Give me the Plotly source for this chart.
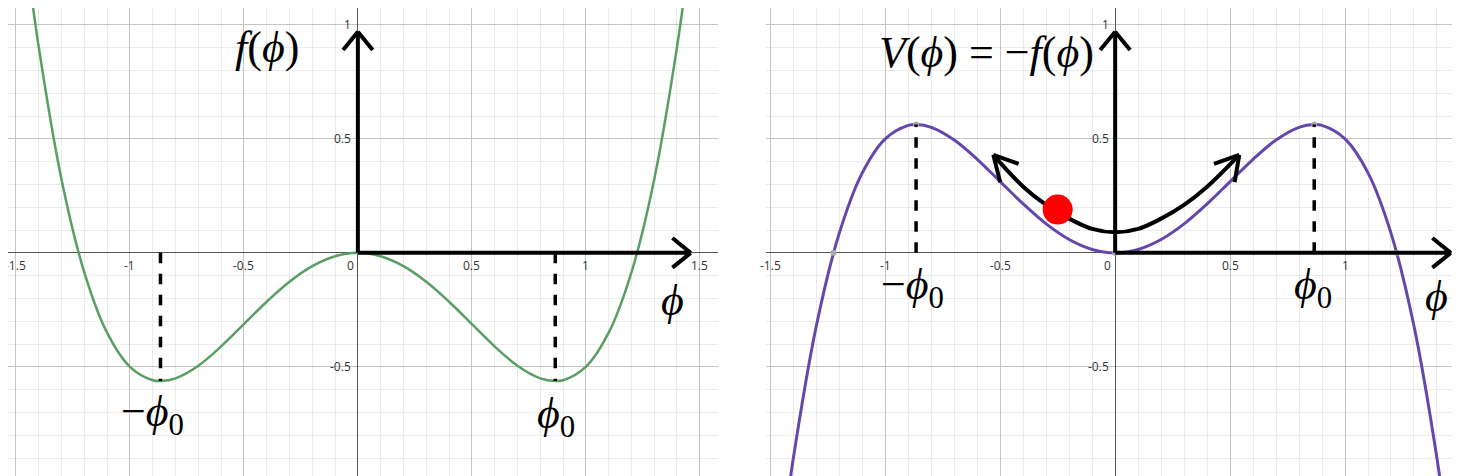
import plotly.graph_objects as go

phi = [-1.45,-1.4,-1.3,-1.2,-1.1,-1.0,-0.9,-0.866,-0.8,-0.7,-0.6,-0.5,-0.4,-0.3,-0.2,-0.1,0.0,
       0.1,0.2,0.3,0.4,0.5,0.6,0.7,0.8,0.866,0.9,1.0,1.1,1.2,1.3,1.4,1.45]
f_vals = [1.2667,0.9016,0.3211,-0.0864,-0.3509,-0.5,-0.5589,-0.5625,-0.5504,-0.4949,-0.4104,-0.3125,-0.2144,-0.1269,-0.0584,-0.0149,0.0,
          -0.0149,-0.0584,-0.1269,-0.2144,-0.3125,-0.4104,-0.4949,-0.5504,-0.5625,-0.5589,-0.5,-0.3509,-0.0864,0.3211,0.9016,1.2667]
v_vals = [-v for v in f_vals]
phi0 = 0.866
extreme = 0.5625
arc_x = [-0.53,-0.4,-0.3,-0.2,-0.1,0.0,0.1,0.2,0.3,0.4,0.54]
arc_y = [0.43,0.29,0.21,0.15,0.105,0.09,0.105,0.15,0.21,0.29,0.43]
ball = (-0.25, 0.19)
gray_x = [-1.2247,-0.866,0.0,0.866,1.2247]
gray_y = [0.0,0.5625,0.0,0.5625,0.0]
xticks = [-1.5,-1,-0.5,0,0.5,1,1.5]
yticks = [1,0.5,-0.5,-1]

fig = go.Figure()
fig.add_trace(go.Scatter(x=phi, y=f_vals, mode="lines", line=dict(color="#5a9e63", width=2.5, shape="spline"), xaxis="x", yaxis="y"))
fig.add_trace(go.Scatter(x=phi, y=v_vals, mode="lines", line=dict(color="#6447ac", width=3, shape="spline"), xaxis="x2", yaxis="y2"))
fig.add_trace(go.Scatter(x=gray_x, y=gray_y, mode="markers", marker=dict(color="#aaaaaa", size=6), xaxis="x2", yaxis="y2"))
fig.add_trace(go.Scatter(x=arc_x, y=arc_y, mode="lines", line=dict(color="black", width=4, shape="spline"), xaxis="x2", yaxis="y2"))
fig.add_trace(go.Scatter(x=[ball[0]], y=[ball[1]], mode="markers", marker=dict(color="#ff0000", size=30), xaxis="x2", yaxis="y2"))

shapes = []
annotations = []
def axis_set(sfx):
    xa = "x" + sfx; ya = "y" + sfx
    L = dict(color="black", width=4)
    shapes.extend([
        dict(type="line", xref=xa, yref=ya, x0=0, y0=0, x1=1.46, y1=0, line=L),
        dict(type="line", xref=xa, yref=ya, x0=0, y0=0, x1=0, y1=0.97, line=L),
        dict(type="line", xref=xa, yref=ya, x0=1.46, y0=0, x1=1.38, y1=0.065, line=L),
        dict(type="line", xref=xa, yref=ya, x0=1.46, y0=0, x1=1.38, y1=-0.065, line=L),
        dict(type="line", xref=xa, yref=ya, x0=0, y0=0.97, x1=-0.065, y1=0.89, line=L),
        dict(type="line", xref=xa, yref=ya, x0=0, y0=0.97, x1=0.065, y1=0.89, line=L),
    ])
    for t in xticks:
        annotations.append(dict(xref=xa, yref=ya, x=t if t != 0 else -0.01, y=-0.01, text="%g" % t,
                                showarrow=False, yanchor="top", xanchor="center" if t != 0 else "right",
                                font=dict(size=12, color="#333", family="Open Sans")))
    for t in yticks:
        annotations.append(dict(xref=xa, yref=ya, x=-0.02, y=t, text="%g" % t, showarrow=False,
                                xanchor="right", yanchor="middle", font=dict(size=12, color="#333", family="Open Sans")))

axis_set("")
axis_set("2")
D = dict(color="black", width=3.5, dash="dash")
for s in (-1, 1):
    shapes.append(dict(type="line", xref="x", yref="y", x0=s*phi0, y0=0, x1=s*phi0, y1=-extreme, line=D))
    shapes.append(dict(type="line", xref="x2", yref="y2", x0=s*phi0, y0=0, x1=s*phi0, y1=extreme, line=D))

A = dict(color="black", width=4)
shapes += [
    dict(type="line", xref="x2", yref="y2", x0=-0.53, y0=0.43, x1=-0.42, y1=0.39, line=A),
    dict(type="line", xref="x2", yref="y2", x0=-0.53, y0=0.43, x1=-0.5, y1=0.31, line=A),
    dict(type="line", xref="x2", yref="y2", x0=0.54, y0=0.43, x1=0.43, y1=0.39, line=A),
    dict(type="line", xref="x2", yref="y2", x0=0.54, y0=0.43, x1=0.52, y1=0.31, line=A),
]

TF = dict(family="Liberation Serif", size=44, color="black")
def lab(xa, ya, x, y, text):
    annotations.append(dict(xref=xa, yref=ya, x=x, y=y, text=text, showarrow=False, font=TF))
lab("x", "y", -0.4, 0.9, "<i>f</i>(<i>ϕ</i>)")
lab("x", "y", -0.9, -0.71, "−<i>ϕ</i><sub>0</sub>")
lab("x", "y", 0.87, -0.72, "<i>ϕ</i><sub>0</sub>")
lab("x", "y", 1.38, -0.21, "<i>ϕ</i>")
lab("x2", "y2", -0.56, 0.88, "<i>V</i>(<i>ϕ</i>) = −<i>f</i>(<i>ϕ</i>)")
lab("x2", "y2", -0.88, -0.15, "−<i>ϕ</i><sub>0</sub>")
lab("x2", "y2", 0.86, -0.15, "<i>ϕ</i><sub>0</sub>")
lab("x2", "y2", 1.4, -0.19, "<i>ϕ</i>")

def ax(rng, dom, anchor):
    return dict(range=rng, domain=dom, anchor=anchor, dtick=0.5, showticklabels=False,
                gridcolor="#c4c4c4", gridwidth=1, zeroline=True, zerolinecolor="#555", zerolinewidth=1,
                minor=dict(dtick=0.1, gridcolor="#ebebeb", showgrid=True), showline=False, fixedrange=True)

fig.update_layout(
    width=1460, height=476, margin=dict(l=0, r=0, t=0, b=0), showlegend=False,
    plot_bgcolor="white", paper_bgcolor="white",
    xaxis=ax([-1.535, 1.58], [0, 0.4863], "y"),
    yaxis=ax([-1.014, 1.074], [0, 1], "x"),
    xaxis2=ax([-1.52, 1.535], [0.519, 1], "y2"),
    yaxis2=ax([-1.014, 1.074], [0, 1], "x2"),
    shapes=shapes, annotations=annotations,
)
fig.write_html("out.html")
